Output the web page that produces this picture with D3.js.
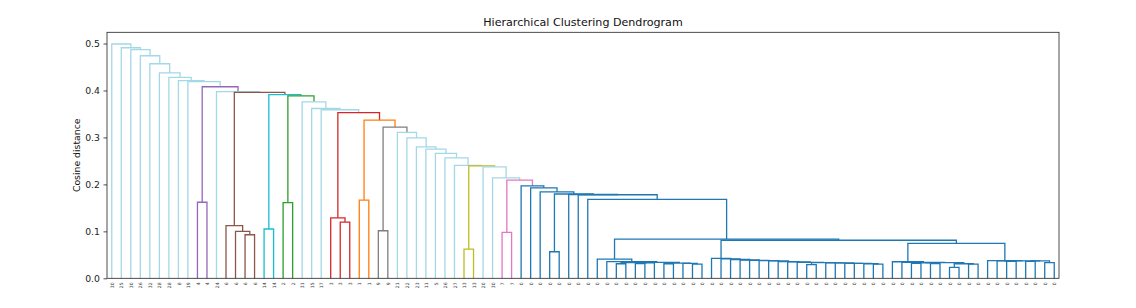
<!DOCTYPE html>
<html>
<head>
<meta charset="utf-8">
<script src="https://cdn.jsdelivr.net/npm/d3@7"></script>
<style>
  body { margin: 0; background: #fff; }
  svg { display: block; font-family: "DejaVu Sans", sans-serif; }
</style>
</head>
<body>
<div id="chart"></div>
<script>
// leaf labels, in dendrogram order (left to right)
const leafLabels = [
  '30','25','30','26','32','28','28','8','19','4','4','24','6','6','6','6','14','14','2','2',
  '31','15','17','3','3','3','1','1','9','9','21','22','23','11','5','26','27','13','13','20',
  '30','7','7',
  '0','0','0','0','0','0','0','0','0','0','0','0','0','0','0','0','0','0','0','0',
  '0','0','0','0','0','0','0','0','0','0','0','0','0','0','0','0','0','0','0','0',
  '0','0','0','0','0','0','0','0','0','0','0','0','0','0','0','0','0'
];

// merges: [first leaf, first leaf of right child, last leaf, cosine distance]
const merges = [
  [0,1,99,0.499],[1,2,99,0.491],[2,3,99,0.487],[3,4,99,0.474],[4,5,99,0.457],
  [5,6,99,0.4375],[6,7,99,0.428],[7,8,99,0.421],[8,9,99,0.419],
  [9,11,99,0.408],[9,10,10,0.162],
  [11,12,99,0.3975],
  [12,16,99,0.396],[12,13,15,0.112],[13,14,15,0.100],[14,15,15,0.0928],
  [16,18,99,0.391],[16,17,17,0.105],
  [18,20,99,0.3886],[18,19,19,0.161],
  [20,21,99,0.3758],[21,22,99,0.3617],[22,23,99,0.359],
  [23,26,99,0.353],[23,24,25,0.1287],[24,25,25,0.1198],
  [26,28,99,0.3367],[26,27,27,0.1666],
  [28,30,99,0.322],[28,29,29,0.1013],
  [30,31,99,0.3106],[31,32,99,0.299],[32,33,99,0.280],[33,34,99,0.275],
  [34,35,99,0.266],[35,36,99,0.2567],[36,37,99,0.2404],
  [37,39,99,0.2396],[37,38,38,0.0623],
  [39,40,99,0.2375],[40,41,99,0.214],
  [41,43,99,0.209],[41,42,42,0.0978],
  [43,44,99,0.197],[44,45,99,0.1928],[45,46,99,0.184],
  [46,48,99,0.1795],[46,47,47,0.0566],
  [48,49,99,0.1785],[49,50,99,0.178],[50,51,99,0.168],
  [51,63,99,0.0836],
  // group 51-62
  [51,52,62,0.041],[52,53,62,0.0354],[53,58,62,0.034],
  [53,55,57,0.0335],[53,54,54,0.031],[55,57,57,0.033],[55,56,56,0.0315],
  [58,60,62,0.0325],[58,59,59,0.031],[60,61,62,0.032],[61,62,62,0.030],
  [63,82,99,0.081],
  // group 63-81
  [63,64,81,0.0426],[64,65,81,0.0413],[65,66,81,0.040],[66,67,81,0.039],
  [67,68,81,0.038],[68,69,81,0.0375],[69,70,81,0.037],[70,71,81,0.0355],
  [71,72,81,0.035],[72,73,81,0.034],[73,75,81,0.0335],[73,74,74,0.029],
  [75,76,81,0.033],[76,77,81,0.033],[77,78,81,0.032],[78,79,81,0.032],
  [79,80,81,0.031],[80,81,81,0.030],
  [82,92,99,0.0745],
  // group 82-91
  [82,83,91,0.0353],[83,84,91,0.034],[84,88,91,0.0335],
  [84,86,87,0.033],[84,85,85,0.032],[86,87,87,0.0315],
  [88,90,91,0.031],[88,89,89,0.0234],[90,91,91,0.030],
  // group 92-99
  [92,93,99,0.0375],[93,96,99,0.0372],[93,94,95,0.037],[94,95,95,0.036],
  [96,98,99,0.037],[96,97,97,0.0362],[98,99,99,0.0335]
];

// colour groups: [name, first leaf, last leaf]
const clusters = [
  ['4',9,10],['6',12,15],['14',16,17],['2',18,19],['3',23,25],
  ['1',26,27],['9',28,29],['13',37,38],['7',41,42],['0',43,99]
];

const yTicks = [0, 0.1, 0.2, 0.3, 0.4, 0.5];

const W = 1136, H = 308;
const margin = {top: 32.3, right: 77, bottom: 29.7, left: 107};
const N = leafLabels.length;
const maxH = d3.max(merges, d => d[3]);

const svg = d3.select('#chart').append('svg')
  .attr('width', W)
  .attr('height', H);

const x = d3.scaleLinear()
  .domain([0, 10 * N])
  .range([margin.left, W - margin.right]);

const y = d3.scaleLinear()
  .domain([0, maxH * 1.05])
  .range([H - margin.bottom, margin.top]);

const color = d3.scaleOrdinal()
  .domain(clusters.map(c => c[0]))
  .range(['#9467bd', '#8c564b', '#17becf', '#2ca02c', '#d62728',
          '#ff7f0e', '#7f7f7f', '#bcbd22', '#e377c2', '#1f77b4']);
const otherColor = '#a3d8e6';

function linkColor(m) {
  const lo = m[0], hi = m[1] - 1;
  const c = clusters.find(c => lo >= c[1] && hi <= c[2]);
  return c ? color(c[0]) : otherColor;
}

// build the tree from the ranges
const byRange = new Map(merges.map(m => [m[0] + '-' + m[2], m]));
const links = [];
function build(lo, hi) {
  if (lo === hi) return {x: x(5 + 10 * lo), h: 0};
  const m = byRange.get(lo + '-' + hi);
  if (!m) { console.error('missing merge', lo, hi); return {x: x(5 + 10 * lo), h: 0}; }
  const a = build(lo, m[1] - 1);
  const b = build(m[1], hi);
  links.push({a, b, h: m[3], color: linkColor(m)});
  return {x: (a.x + b.x) / 2, h: m[3]};
}
build(0, N - 1);
links.sort((p, q) => q.h - p.h);

svg.append('g')
  .selectAll('path')
  .data(links)
  .enter()
  .append('path')
  .attr('d', d => `M${d.a.x},${y(d.a.h)}V${y(d.h)}H${d.b.x}V${y(d.b.h)}`)
  .attr('fill', 'none')
  .attr('stroke', d => d.color)
  .attr('stroke-width', 1.3);

// axes
const yAxis = svg.append('g')
  .attr('transform', `translate(${margin.left},0)`)
  .call(d3.axisLeft(y).tickValues(yTicks).tickFormat(d3.format('.1f')).tickSize(3.5).tickPadding(3.5));
yAxis.select('.domain').remove();
yAxis.selectAll('text').attr('font-size', '9.3px').attr('fill', '#222').style('font-family', '"DejaVu Sans", sans-serif');
yAxis.selectAll('line').attr('stroke', '#222').attr('stroke-width', 0.8);

const xAxis = svg.append('g')
  .attr('transform', `translate(0,${H - margin.bottom})`)
  .call(d3.axisBottom(x).tickValues(d3.range(N).map(i => 5 + 10 * i))
    .tickFormat((d, i) => leafLabels[i]).tickSize(0));
xAxis.select('.domain').remove();
xAxis.selectAll('text')
  .attr('font-size', '4.6px')
  .attr('fill', '#333')
  .style('font-family', '"DejaVu Sans", sans-serif')
  .attr('text-anchor', 'end')
  .attr('transform', 'rotate(-90)')
  .attr('x', -4)
  .attr('y', 0)
  .attr('dy', '0.35em');

// frame
svg.append('rect')
  .attr('x', margin.left)
  .attr('y', margin.top)
  .attr('width', W - margin.left - margin.right)
  .attr('height', H - margin.top - margin.bottom)
  .attr('fill', 'none')
  .attr('stroke', '#222')
  .attr('stroke-width', 0.8);

svg.append('text')
  .attr('x', (margin.left + W - margin.right) / 2)
  .attr('y', 26)
  .attr('text-anchor', 'middle')
  .attr('font-size', '11.1px')
  .attr('fill', '#111')
  .text('Hierarchical Clustering Dendrogram');

svg.append('text')
  .attr('transform', `translate(80,${(margin.top + H - margin.bottom) / 2}) rotate(-90)`)
  .attr('text-anchor', 'middle')
  .attr('font-size', '9.3px')
  .attr('fill', '#111')
  .text('Cosine distance');
</script>
</body>
</html>
